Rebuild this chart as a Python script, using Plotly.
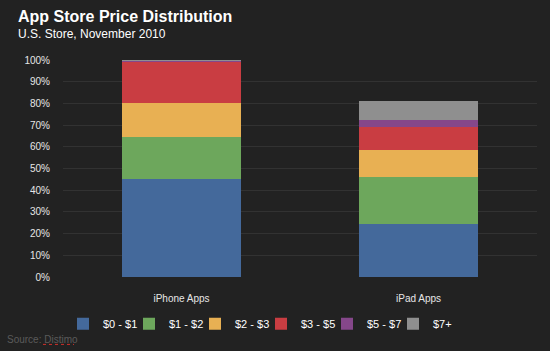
import plotly.graph_objects as go

categories = ["iPhone Apps", "iPad Apps"]
price_bands = ["$0 - $1", "$1 - $2", "$2 - $3", "$3 - $5", "$5 - $7", "$7+"]
share_iphone = [45.2, 19.1, 16.0, 18.8, 0.6, 0.3]
share_ipad = [24.3, 21.7, 12.3, 10.9, 3.0, 8.9]
band_colors = ["#44699b", "#6da75c", "#e8b053", "#c93d42", "#85478a", "#8f8f8f"]
y_ticks = list(range(0, 101, 10))

BG = "#222222"
FONT = "Liberation Sans, Arial, sans-serif"
PLOT_L, PLOT_T, PLOT_W, PLOT_H = 63, 60, 474, 216.7


def px_x(x):
    return (x - PLOT_L) / PLOT_W


def px_y(y):
    return 1 - (y - PLOT_T) / PLOT_H


fig = go.Figure()
for i, band in enumerate(price_bands):
    fig.add_trace(go.Bar(
        name=band,
        x=categories,
        y=[share_iphone[i], share_ipad[i]],
        marker=dict(color=band_colors[i], line=dict(width=0)),
        hovertemplate="%{x}<br>" + band + ": %{y}%<extra></extra>",
    ))

fig.update_layout(
    barmode="stack",
    bargap=0.5,
    width=550, height=351,
    paper_bgcolor=BG, plot_bgcolor=BG,
    margin=dict(l=63, r=13, t=60, b=74.3),
    font=dict(family=FONT, color="#e6e6e6", size=10),
    showlegend=True,
    legend=dict(
        orientation="h", x=0.0, xanchor="left", y=px_y(309), yanchor="top",
        font=dict(size=11, color="#ffffff", family=FONT),
        bgcolor="rgba(0,0,0,0)", itemwidth=30, traceorder="normal",
        entrywidth=21, itemclick=False,
    ),
    xaxis=dict(showgrid=False, zeroline=False, showline=False,
               tickfont=dict(size=10, color="#e6e6e6"),
               ticks="outside", ticklen=12, tickcolor="rgba(0,0,0,0)"),
    yaxis=dict(range=[0, 100], tickvals=y_ticks,
               ticktext=[f"{v}%" for v in y_ticks],
               showgrid=True, gridcolor="#323232", gridwidth=1,
               zeroline=False, showline=False,
               tickfont=dict(size=10, color="#e6e6e6"),
               ticks="outside", ticklen=10, tickcolor="rgba(0,0,0,0)"),
    annotations=[
        dict(text="<b>App Store Price Distribution</b>", xref="paper", yref="paper",
             x=px_x(16), y=px_y(16.5), xanchor="left", yanchor="middle",
             showarrow=False, font=dict(size=16, color="#ffffff", family=FONT)),
        dict(text="U.S. Store, November 2010", xref="paper", yref="paper",
             x=px_x(16), y=px_y(34), xanchor="left", yanchor="middle",
             showarrow=False, font=dict(size=12, color="#ffffff", family=FONT)),
        dict(text="Source: Distimo", xref="paper", yref="paper",
             x=px_x(5), y=px_y(339), xanchor="left", yanchor="middle",
             showarrow=False, font=dict(size=10, color="#5a5a5a", family=FONT)),
    ],
    shapes=[
        dict(type="line", xref="paper", yref="paper",
             x0=px_x(43), x1=px_x(74), y0=px_y(344), y1=px_y(344),
             line=dict(color="#d0302a", width=1, dash="dot")),
    ],
)

fig.write_html("out.html")
